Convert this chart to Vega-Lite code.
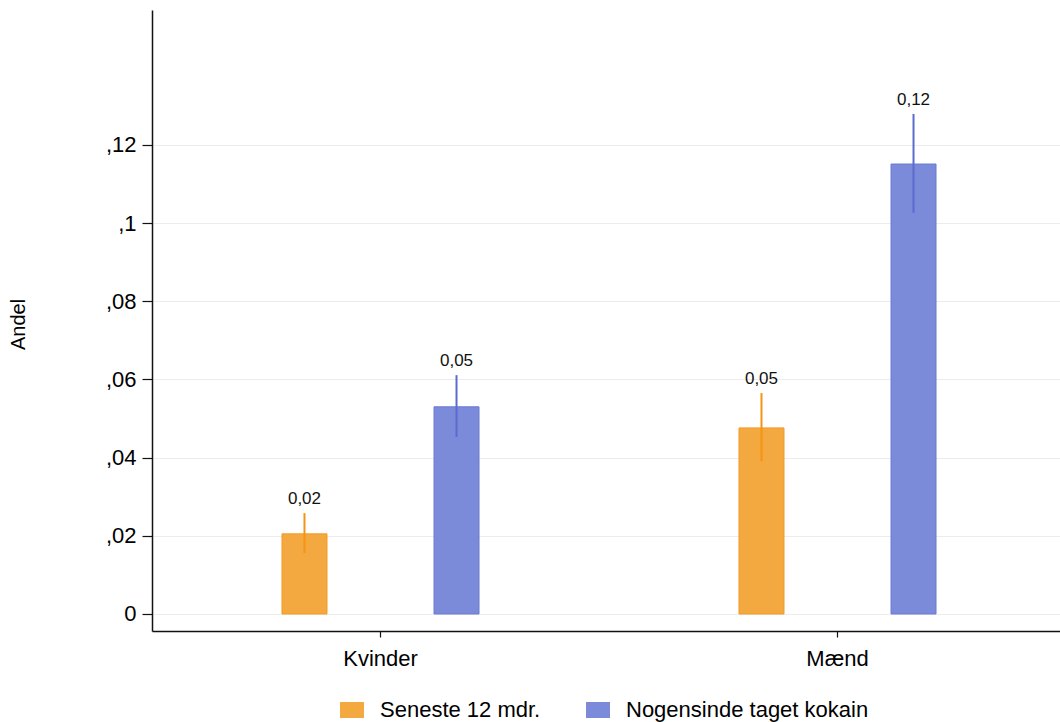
{
  "$schema": "https://vega.github.io/schema/vega-lite/v6.json",
  "autosize": {"type": "none"},
  "padding": {"left": 152, "top": 10, "right": 0, "bottom": 91},
  "width": 908,
  "height": 621,
  "background": "white",
  "config": {
    "font": "Liberation Sans",
    "view": {"stroke": null},
    "locale": {"number": {"decimal": ",", "thousands": ".", "grouping": [3], "currency": ["", " kr."]}}
  },
  "data": {
    "values": [
      {"gruppe": "Kvinder", "serie": "Seneste 12 mdr.", "andel": 0.0205, "lo": 0.0156, "hi": 0.0258},
      {"gruppe": "Kvinder", "serie": "Nogensinde taget kokain", "andel": 0.0530, "lo": 0.0453, "hi": 0.0611},
      {"gruppe": "Mænd", "serie": "Seneste 12 mdr.", "andel": 0.0476, "lo": 0.0391, "hi": 0.0565},
      {"gruppe": "Mænd", "serie": "Nogensinde taget kokain", "andel": 0.1151, "lo": 0.1026, "hi": 0.1279}
    ]
  },
  "encoding": {
    "x": {
      "field": "gruppe", "type": "nominal", "sort": ["Kvinder", "Mænd"],
      "scale": {"range": [0, 914], "paddingInner": 0, "paddingOuter": 0},
      "axis": {
        "title": null, "labelAngle": 0, "labelFontSize": 22, "labelColor": "#000",
        "domainColor": "#111", "domainWidth": 1.5, "tickColor": "#111", "tickSize": 6, "tickWidth": 1.2,
        "labelPadding": 11, "grid": false
      }
    },
    "xOffset": {
      "field": "serie", "type": "nominal", "sort": ["Seneste 12 mdr.", "Nogensinde taget kokain"],
      "scale": {"paddingInner": 0.704, "paddingOuter": 0.855}
    }
  },
  "layer": [
    {
      "mark": {"type": "bar", "strokeWidth": 1},
      "encoding": {
        "y": {
          "field": "andel", "type": "quantitative",
          "scale": {"domain": [-0.00435, 0.1545], "nice": false, "zero": false},
          "axis": {
            "values": [0, 0.02, 0.04, 0.06, 0.08, 0.1, 0.12],
            "labelExpr": "datum.value == 0 ? '0' : replace(replace(format(datum.value, '.2~f'), '0.', ','), '0,', ',')",
            "labelFontSize": 22, "labelColor": "#000", "labelPadding": 6,
            "tickSize": 10, "tickColor": "#111", "tickWidth": 1.2,
            "domainColor": "#111", "domainWidth": 1.5,
            "grid": true, "gridColor": "#ECECEC", "gridWidth": 1,
            "title": "Andel", "titleFontSize": 20, "titleFontWeight": "normal", "titleColor": "#000",
            "titleX": -134, "titleY": 314, "titleAngle": -90, "titleAlign": "center", "titleBaseline": "middle"
          }
        },
        "y2": {"datum": 0},
        "fill": {
          "field": "serie", "type": "nominal",
          "sort": ["Seneste 12 mdr.", "Nogensinde taget kokain"],
          "scale": {"domain": ["Seneste 12 mdr.", "Nogensinde taget kokain"], "range": ["#F4A840", "#7B8BDA"]},
          "legend": {
            "title": null, "orient": "none", "direction": "horizontal", "columns": 2,
            "legendX": 189, "legendY": 689,
            "symbolType": "M-1.5,-1H1.5V1H-1.5Z", "symbolSize": 256, "symbolStrokeWidth": 0,
            "symbolOpacity": 1, "labelLimit": 400,
            "labelFontSize": 22, "labelColor": "#000", "labelOffset": 17, "columnPadding": 45
          }
        },
        "stroke": {
          "field": "serie", "type": "nominal",
          "scale": {"domain": ["Seneste 12 mdr.", "Nogensinde taget kokain"], "range": ["#F29A22", "#6A7BD3"]},
          "legend": null
        }
      }
    },
    {
      "mark": {"type": "rule", "strokeWidth": 2},
      "encoding": {
        "y": {"field": "lo", "type": "quantitative"},
        "y2": {"field": "hi"},
        "color": {
          "field": "serie", "type": "nominal",
          "scale": {"domain": ["Seneste 12 mdr.", "Nogensinde taget kokain"], "range": ["#F39412", "#5B6BCF"]},
          "legend": null
        }
      }
    },
    {
      "mark": {"type": "text", "fontSize": 17, "baseline": "bottom", "dy": -5, "color": "#111"},
      "encoding": {
        "y": {"field": "hi", "type": "quantitative"},
        "text": {"field": "andel", "type": "quantitative", "format": ".2f"}
      }
    }
  ]
}
